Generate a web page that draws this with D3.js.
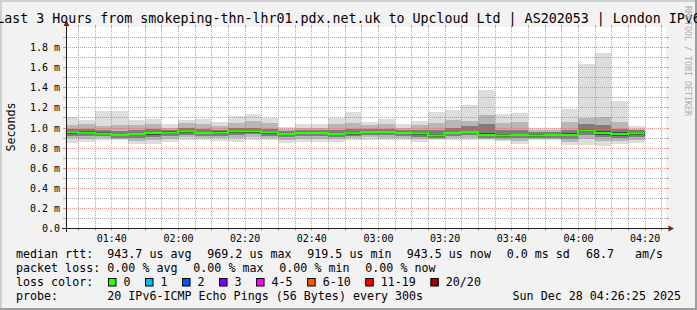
<!DOCTYPE html>
<html>
<head>
<meta charset="utf-8">
<script src="https://cdn.jsdelivr.net/npm/d3@7"></script>
<style>
body { margin: 0; background: #f2f2f2; }
svg { display: block; }
text { font-family: "DejaVu Sans Mono", monospace; fill: #000; white-space: pre; }
</style>
</head>
<body>
<svg width="697" height="310"></svg>
<script>
// **** data (ms) ****

var binEnd = ['01:30','01:35','01:40','01:45','01:50','01:55','02:00','02:05','02:10','02:15',
              '02:20','02:25','02:30','02:35','02:40','02:45','02:50','02:55','03:00','03:05',
              '03:10','03:15','03:20','03:25','03:30','03:35','03:40','03:45','03:50','03:55',
              '04:00','04:05','04:10','04:15','04:20'];

var median = [0.952,0.949,0.939,0.926,0.936,0.946,0.949,0.962,0.946,0.949,0.962,0.962,0.952,0.936,0.946,0.946,0.936,0.942,0.956,0.956,
              0.946,0.942,0.920,0.946,0.956,0.926,0.920,0.926,0.920,0.926,0.926,0.969,0.946,0.936,0.9435];

var hi1 = [1.104,1.071,1.161,1.161,1.071,1.088,1.038,1.071,1.088,1.052,1.111,1.131,1.098,1.005,1.032,1.032,1.098,1.154,1.055,1.085,
           1.032,1.065,1.154,1.174,1.220,1.372,1.131,1.144,0.999,0.999,1.184,1.627,1.739,1.263,1.012];
var hi3 = [1.02,1.03,1.01,1.02,1.02,1.03,1.0,1.04,1.03,1.01,1.04,1.06,1.04,0.985,1.0,1.0,1.03,1.04,1.02,1.03,
           1.0,1.02,1.04,1.07,1.065,1.12,1.04,1.05,0.98,0.98,1.05,1.09,1.10,1.05,0.99];
var hi6 = [0.985,0.99,0.975,0.97,0.975,0.985,0.98,1.0,0.985,0.98,0.995,1.0,0.99,0.965,0.98,0.975,0.98,0.985,0.99,0.99,
           0.975,0.98,0.98,1.0,1.01,1.03,0.975,0.98,0.96,0.96,0.98,1.03,1.02,0.99,0.975];
var hi9 = [0.965,0.962,0.952,0.94,0.948,0.96,0.962,0.975,0.96,0.962,0.975,0.975,0.965,0.948,0.96,0.958,0.95,0.955,0.968,0.968,
           0.958,0.955,0.94,0.96,0.97,0.945,0.935,0.94,0.935,0.94,0.945,0.985,0.965,0.955,0.958];
var lo9 = [0.94,0.935,0.928,0.912,0.922,0.93,0.935,0.948,0.932,0.936,0.948,0.95,0.94,0.922,0.932,0.932,0.924,0.93,0.944,0.944,
           0.934,0.93,0.91,0.932,0.944,0.912,0.908,0.912,0.908,0.914,0.912,0.955,0.93,0.92,0.93];
var lo6 = [0.92,0.915,0.912,0.9,0.9,0.91,0.915,0.93,0.915,0.92,0.925,0.935,0.92,0.905,0.915,0.915,0.905,0.912,0.928,0.925,
           0.918,0.91,0.898,0.915,0.925,0.9,0.895,0.895,0.895,0.9,0.89,0.93,0.905,0.9,0.91];
var lo3 = [0.895,0.89,0.895,0.885,0.87,0.875,0.89,0.905,0.895,0.895,0.895,0.905,0.895,0.88,0.89,0.89,0.885,0.895,0.905,0.9,
           0.895,0.885,0.885,0.895,0.9,0.885,0.88,0.87,0.885,0.888,0.86,0.89,0.87,0.87,0.88];
var lo1 = [0.846,0.856,0.88,0.873,0.833,0.833,0.856,0.88,0.873,0.866,0.856,0.88,0.873,0.846,0.856,0.86,0.856,0.873,0.876,0.873,
           0.873,0.856,0.873,0.873,0.876,0.873,0.866,0.84,0.873,0.873,0.83,0.83,0.82,0.833,0.843];

var yTicks = [0, 0.2, 0.4, 0.6, 0.8, 1.0, 1.2, 1.4, 1.6, 1.8];
var yMinor = [0.1, 0.3, 0.5, 0.7, 0.9, 1.1, 1.3, 1.5, 1.7, 1.9];

var rttStats = ['943.7 us avg', '969.2 us max', '919.5 us min', '943.5 us now', '0.0 ms sd', '68.7', 'am/s'];
var lossStats = ['0.00 % avg', '0.00 % max', '0.00 % min', '0.00 % now'];
var lossLabels = ['0', '1', '2', '3', '4-5', '6-10', '11-19', '20/20'];
var lossColors = ['#26ff00', '#00b8ff', '#0059ff', '#7e00ff', '#ff00ff', '#ff5500', '#ff0000', '#a10000'];

// **** scales ****

var parseT = d3.utcParse('%Y-%m-%d %H:%M:%S');
var tEnd = parseT('2025-12-28 04:26:25');
var tStart = d3.utcHour.offset(tEnd, -3);

var x = d3.scaleUtc().domain([tStart, tEnd]).range([66, 666]);
var y = d3.scaleLinear().domain([0, 2]).range([228, 27]);

var svg = d3.select('svg');

// frame (3d border) and canvas
svg.append('rect').attr('width', 697).attr('height', 310).attr('fill', '#f2f2f2');
svg.append('path').attr('d', 'M0,0H697V2H2V310H0Z').attr('fill', '#cfcfcf');
svg.append('path').attr('d', 'M697,0V310H0V308H695V0Z').attr('fill', '#9e9e9e');
svg.append('rect').attr('x', 66).attr('y', 27).attr('width', 600).attr('height', 201).attr('fill', '#fff');

svg.append('clipPath').attr('id', 'plot')
    .append('rect').attr('x', 66).attr('y', 27).attr('width', 600).attr('height', 201);

// step points for each 300s bin
function steps(lo, hi) {
    var pts = [];
    binEnd.forEach(function(s, i) {
        var e = parseT('2025-12-28 ' + s + ':00');
        pts.push({t: d3.utcSecond.offset(e, -300), lo: lo[i], hi: hi[i]});
        pts.push({t: e, lo: lo[i], hi: hi[i]});
    });
    return pts;
}

var area = d3.area()
    .x(function(d) { return x(d.t); })
    .y0(function(d) { return y(d.lo); })
    .y1(function(d) { return y(d.hi); });

var bands = [
    {lo: lo1, hi: hi1, color: '#dddddd'},
    {lo: lo3, hi: hi3, color: '#b7b7b7'},
    {lo: lo6, hi: hi6, color: '#7e7e7e'},
    {lo: lo9, hi: hi9, color: '#454545'}
];

var smoke = svg.append('g').attr('clip-path', 'url(#plot)');
bands.forEach(function(b) {
    smoke.append('path')
        .attr('d', area(steps(b.lo, b.hi)))
        .attr('fill', b.color)
        .attr('shape-rendering', 'crispEdges');
});

// **** grid ****

var grid = svg.append('g');
var minorT = d3.utcMinute.every(5).range(tStart, tEnd).filter(function(t) { return t.getUTCMinutes() % 20 !== 0; });
var majorT = d3.utcMinute.every(20).range(tStart, tEnd);

function vline(t, col) {
    var px = Math.round(x(t)) + 0.5;
    grid.append('line').attr('x1', px).attr('x2', px).attr('y1', 27).attr('y2', 228)
        .attr('stroke', col).attr('stroke-dasharray', '1,1');
    grid.append('line').attr('x1', px).attr('x2', px).attr('y1', 228).attr('y2', 231).attr('stroke', col);
    grid.append('line').attr('x1', px).attr('x2', px).attr('y1', 25).attr('y2', 27).attr('stroke', col);
}
function hline(v, col) {
    var py = Math.round(y(v)) + 0.5;
    grid.append('line').attr('x1', 66).attr('x2', 666).attr('y1', py).attr('y2', py)
        .attr('stroke', col).attr('stroke-dasharray', '1,1');
    grid.append('line').attr('x1', 63).attr('x2', 66).attr('y1', py).attr('y2', py).attr('stroke', col);
    grid.append('line').attr('x1', 666).attr('x2', 669).attr('y1', py).attr('y2', py).attr('stroke', col);
}
minorT.forEach(function(t) { vline(t, 'rgba(143,143,143,0.75)'); });
yMinor.forEach(function(v) { hline(v, 'rgba(143,143,143,0.75)'); });
majorT.forEach(function(t) { vline(t, 'rgba(222,79,79,0.6)'); });
yTicks.slice(1).forEach(function(v) { hline(v, 'rgba(222,79,79,0.6)'); });

// **** median line ****

var line = d3.line()
    .x(function(d) { return x(d.t); })
    .y(function(d) { return y(d.hi); });

svg.append('path')
    .attr('clip-path', 'url(#plot)')
    .attr('d', line(steps(median, median)))
    .attr('fill', 'none')
    .attr('stroke', lossColors[0])
    .attr('stroke-width', 2);

// **** axes ****

svg.append('line').attr('x1', 62).attr('x2', 670).attr('y1', 228.5).attr('y2', 228.5).attr('stroke', '#1f1f1f');
svg.append('line').attr('x1', 66.5).attr('x2', 66.5).attr('y1', 232).attr('y2', 23).attr('stroke', '#1f1f1f');
svg.append('path').attr('d', 'M674,228.5L668.5,225.5V231.5Z').attr('fill', '#801f1f');
svg.append('path').attr('d', 'M66.5,20.5L63.5,26H69.5Z').attr('fill', '#801f1f');

svg.append('g')
    .attr('transform', 'translate(0,228)')
    .call(d3.axisBottom(x).tickValues(majorT).tickFormat(d3.utcFormat('%H:%M')).tickSize(0).tickPadding(0))
    .call(function(g) {
        g.select('.domain').remove();
        g.selectAll('text').attr('dy', null).attr('y', 13.5)
            .style('font-family', '"DejaVu Sans Mono", monospace').style('font-size', '10px').attr('fill', '#000');
    });

svg.append('g')
    .attr('transform', 'translate(60,0)')
    .call(d3.axisLeft(y).tickValues(yTicks).tickSize(0).tickPadding(0)
        .tickFormat(function(d) { return d === 0 ? '0.0' : d.toFixed(1) + ' m'; }))
    .call(function(g) {
        g.select('.domain').remove();
        g.selectAll('text').attr('dy', '0.35em')
            .style('font-family', '"DejaVu Sans Mono", monospace').style('font-size', '10px').attr('fill', '#000');
    });

svg.append('text')
    .attr('transform', 'translate(15,127) rotate(-90)')
    .attr('text-anchor', 'middle')
    .style('font-size', '11.67px')
    .text('Seconds');

svg.append('text')
    .attr('x', 348.5).attr('y', 23)
    .attr('text-anchor', 'middle')
    .style('font-size', '13.3px')
    .text('Last 3 Hours from smokeping-thn-lhr01.pdx.net.uk to Upcloud Ltd | AS202053 | London IPv6');

svg.append('text')
    .attr('transform', 'translate(684.5,6) rotate(90)')
    .style('font-size', '8.3px')
    .attr('fill', '#ababab')
    .style('fill', '#ababab')
    .text('RRDTOOL / TOBI OETIKER');

// **** legend ****

var leg = svg.append('g').style('font-size', '11.67px');
function ltext(px, py, s, anchor) {
    leg.append('text').attr('x', px).attr('y', py).attr('text-anchor', anchor || 'start').text(s);
}

ltext(16, 258.3, 'median rtt:');
[107.3, 207.3, 307.3, 406.7, 506.7, 586, 635].forEach(function(px, i) { ltext(px, 258.3, rttStats[i]); });

ltext(16, 272, 'packet loss:');
lossStats.forEach(function(s, i) { ltext(107.3 + i * 86, 272, s); });

ltext(16, 285.7, 'loss color:');
var bx = 108.5;
lossLabels.forEach(function(s, i) {
    leg.append('rect').attr('x', bx).attr('y', 278.5).attr('width', 7.5).attr('height', 7.5)
        .attr('fill', lossColors[i]).attr('stroke', '#000');
    ltext(bx + 15, 285.7, s);
    bx += 30 + 7.02 * s.length;
});

ltext(16, 299.5, 'probe:');
ltext(107.3, 299.5, '20 IPv6-ICMP Echo Pings (56 Bytes) every 300s');
ltext(681, 299.5, 'Sun Dec 28 04:26:25 2025', 'end');
</script>
</body>
</html>
